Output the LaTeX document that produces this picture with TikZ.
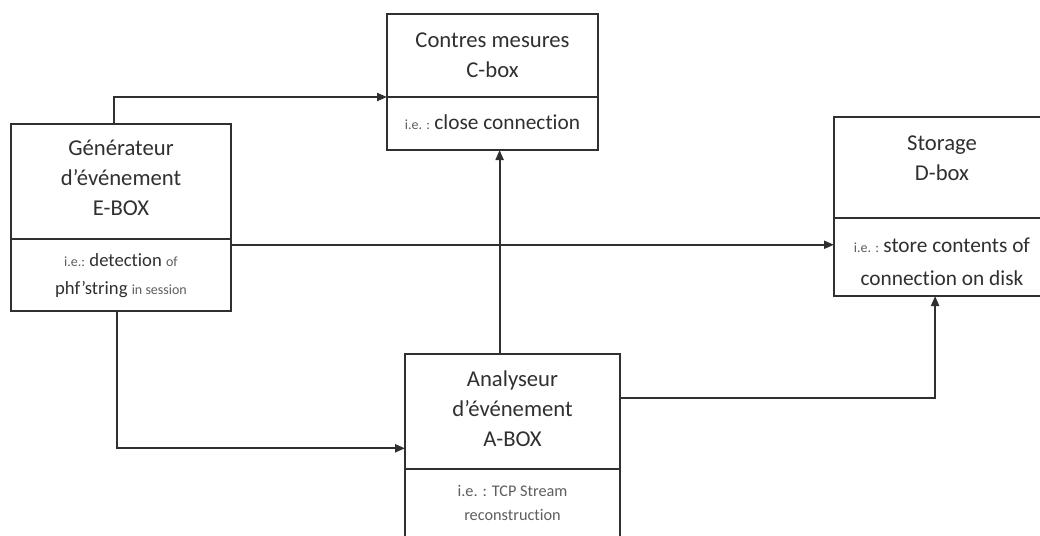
\documentclass[tikz,border=0pt]{standalone}
\usepackage{fontspec}
\setmainfont{Carlito}[Ligatures=NoCommon]
\usetikzlibrary{calc,arrows.meta}
\definecolor{ink}{HTML}{303030}
\definecolor{note}{HTML}{5E5E5E}
% smaller grey lead-in such as "i.e."
\newcommand\leadnote[1]{{\fontsize{10.5}{12}\selectfont\color{note}#1}}
\begin{document}
\begin{tikzpicture}[x=0.75pt,y=-0.75pt,
  part/.style={draw=ink,line width=1.5pt,fill=white,inner sep=0pt,outer sep=0pt},
  title/.style={align=center,text=ink,inner sep=0pt,font=\fontsize{17}{22.5}\selectfont},
  notebig/.style={align=center,text=ink,inner sep=0pt,font=\fontsize{16}{24.75}\selectfont},
  notemid/.style={align=center,text=ink,inner sep=0pt,font=\fontsize{14}{21}\selectfont},
  notesmall/.style={align=center,text=note,inner sep=0pt,font=\fontsize{12.2}{18}\selectfont},
  link/.style={draw=ink,line width=1.5pt,-{Triangle[length=7.5pt,width=6pt]}}]
\useasboundingbox (0,0) rectangle (1040,536);
\clip (0,0) rectangle (1040,536);

% E-box : event generator
\node[part,minimum width=165pt,minimum height=86.25pt] (etop) at (121,181.5) {};
\node[part,minimum width=165pt,minimum height=54pt] (ebot) at (121,275) {};
\node[title] (etitle) at (121,178) {Générateur\\d’événement\\E-BOX};
\node[notemid] (enote) at (121,276) {\leadnote{i.e.: }detection \leadnote{of}\\phf’string \leadnote{in session}};

% C-box : countermeasures
\node[part,minimum width=158.25pt,minimum height=62.25pt] (ctop) at (492.5,55.5) {};
\node[part,minimum width=158.25pt,minimum height=39.75pt] (cbot) at (492.5,123.5) {};
\node[title] (ctitle) at (492.5,55) {Contres mesures\\C-box};
\node[notebig] (cnote) at (492.5,122) {\leadnote{i.e. : }close connection};

% D-box : storage
\node[part,minimum width=162pt,minimum height=75.75pt] (dtop) at (942,167.5) {};
\node[part,minimum width=162pt,minimum height=58.5pt] (dbot) at (942,257) {};
\node[title] (dtitle) at (942,158) {Storage\\D-box};
\node[notebig] (dnote) at (942,262) {\leadnote{i.e. : }store contents of\\connection on disk};

% A-box : event analyser
\node[part,minimum width=161.25pt,minimum height=86.25pt] (atop) at (512.5,411.5) {};
\node[part,minimum width=161.25pt,minimum height=57pt] (abot) at (512.5,507) {};
\node[title] (atitle) at (512.5,408.5) {Analyseur\\d’événement\\A-BOX};
\node[notesmall] (anote) at (512.5,503) {i.e. : TCP Stream\\reconstruction};

% connectors
\coordinate (e1) at ($(etop.north west)!0.468!(etop.north east)$);
\draw[link] (e1) |- (ctop.south west);
\coordinate (e2) at ($(ebot.north east)!0.08!(ebot.south east)$);
\draw[link] (e2) -- (dbot.west |- e2);
\coordinate (e3) at ($(ebot.south west)!0.48!(ebot.south east)$);
\coordinate (a1) at ($(atop.north west)!0.82!(atop.south west)$);
\draw[link] (e3) |- (a1);
\coordinate (a2) at ($(atop.north west)!0.44!(atop.north east)$);
\draw[link] (a2) -- (cbot.south -| a2);
\coordinate (a3) at ($(atop.north east)!0.38!(atop.south east)$);
\coordinate (d1) at ($(dbot.south west)!0.468!(dbot.south east)$);
\draw[link] (a3) -| (d1);
\end{tikzpicture}
\end{document}
